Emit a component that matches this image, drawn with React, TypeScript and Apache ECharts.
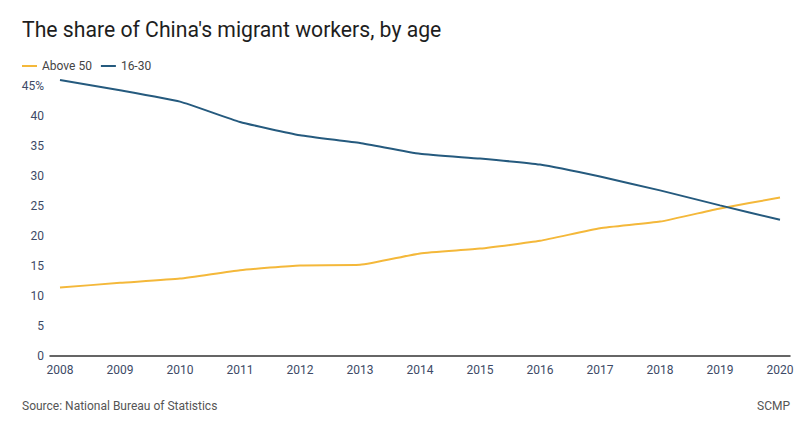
import React, { useEffect, useRef } from "react";
import * as echarts from "echarts";

const years = [2008, 2009, 2010, 2011, 2012, 2013, 2014, 2015, 2016, 2017, 2018, 2019, 2020];
const above50 = [11.4, 12.2, 12.9, 14.3, 15.1, 15.2, 17.1, 17.9, 19.2, 21.3, 22.4, 24.6, 26.4];
const age16to30 = [46.0, 44.3, 42.4, 39.0, 36.8, 35.5, 33.7, 32.9, 31.9, 29.9, 27.6, 25.1, 22.7];
const seriesNames = ["Above 50", "16-30"];
const yTicks = [0, 5, 10, 15, 20, 25, 30, 35, 40, 45];

const FONT = "Roboto, 'Noto Sans', sans-serif";

export default function App() {
  const ref = useRef<HTMLDivElement>(null);
  useEffect(() => {
    if (!ref.current) return;
    const chart = echarts.init(ref.current, null, { renderer: "svg" });
    chart.setOption({
      animation: false,
      backgroundColor: "#ffffff",
      textStyle: { fontFamily: FONT },
      title: {
        text: "The share of China's migrant workers, by age",
        left: 17,
        top: 14,
        textStyle: { fontFamily: FONT, fontSize: 21.2, fontWeight: 400, color: "#1e1e1e" },
      },
      legend: {
        left: 17,
        top: 55,
        icon: "rect",
        itemWidth: 15,
        itemHeight: 2,
        itemGap: 9,
        textStyle: { fontFamily: FONT, fontSize: 12, color: "#444444" },
        data: seriesNames,
      },
      grid: { left: 50, right: 20, top: 86, bottom: 72, containLabel: false },
      xAxis: {
        type: "value",
        min: years[0] - 1 / 6,
        max: years[years.length - 1] + 1 / 6,
        splitLine: { show: false },
        axisLine: { show: true, lineStyle: { color: "#333333", width: 1.5 } },
        axisTick: { show: false },
        axisLabel: {
          customValues: years,
          color: "#3d4a66",
          fontFamily: FONT,
          fontSize: 12,
          margin: 8,
          formatter: (v: number) => String(Math.round(v)),
        },
      },
      yAxis: {
        type: "value",
        min: 0,
        max: 45,
        interval: 5,
        splitLine: { show: false },
        axisLine: { show: false },
        axisTick: { show: false },
        axisLabel: {
          customValues: yTicks,
          color: "#3d4a66",
          fontFamily: FONT,
          fontSize: 12,
          margin: 6,
          formatter: (v: number) => (v === 45 ? "45%" : String(v)),
        },
      },
      series: [
        {
          name: seriesNames[0],
          type: "line",
          data: years.map((y, i) => [y, above50[i]]),
          showSymbol: false,
          clip: false,
          smooth: 0.15,
          lineStyle: { color: "#F4B83A", width: 2 },
          itemStyle: { color: "#F4B83A" },
        },
        {
          name: seriesNames[1],
          type: "line",
          data: years.map((y, i) => [y, age16to30[i]]),
          showSymbol: false,
          clip: false,
          smooth: 0.15,
          lineStyle: { color: "#255A7E", width: 2 },
          itemStyle: { color: "#255A7E" },
        },
      ],
      graphic: [
        {
          type: "text",
          left: 22,
          top: 400,
          style: { text: "Source: National Bureau of Statistics", fill: "#555555", font: `12px ${FONT}` },
        },
        {
          type: "text",
          right: 20,
          top: 400,
          style: { text: "SCMP", fill: "#555555", font: `12px ${FONT}` },
        },
      ],
    });
    return () => chart.dispose();
  }, []);
  return <div ref={ref} style={{ width: 810, height: 428, position: "absolute", left: 0, top: 0 }} />;
}
